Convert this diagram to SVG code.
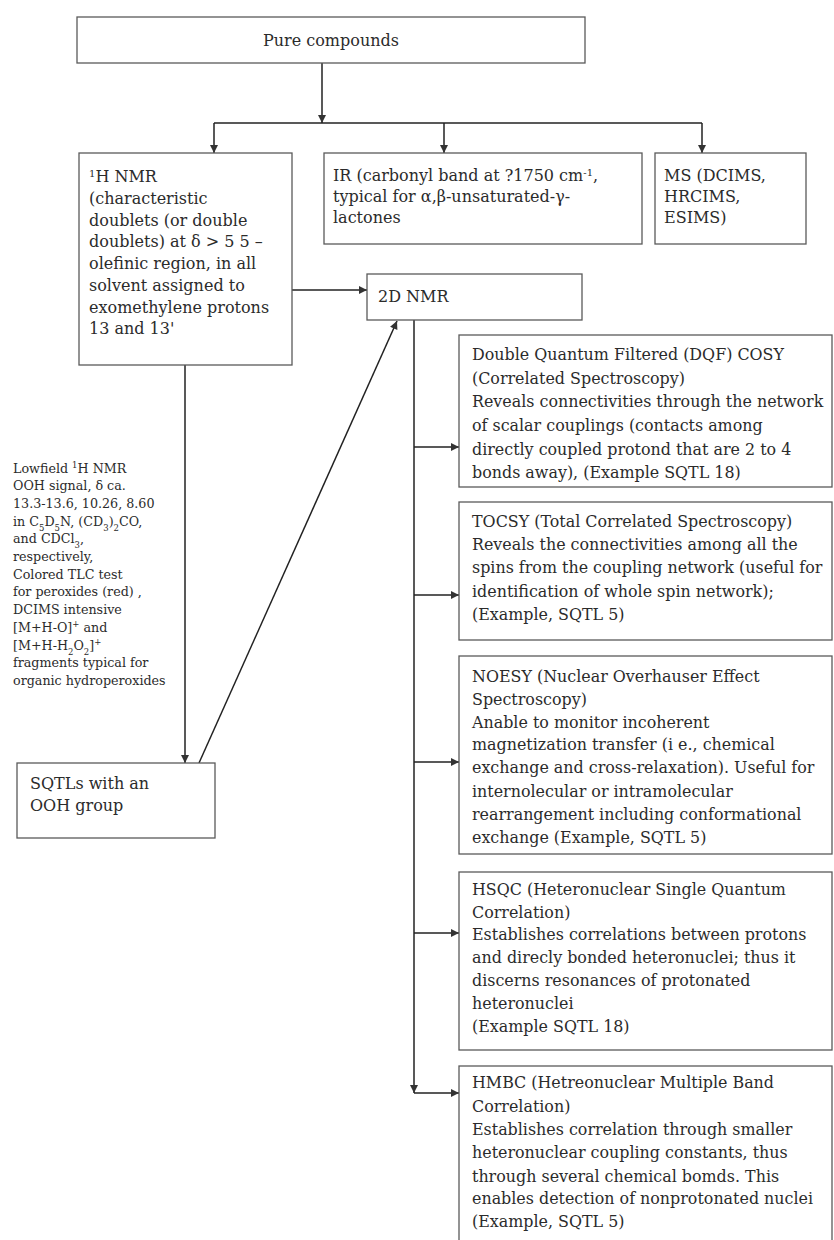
<svg xmlns="http://www.w3.org/2000/svg" width="834" height="1240" viewBox="0 0 834 1240">
<defs>
<style>
.box{fill:#fff;stroke:#5a5a5a;stroke-width:1.3}
.t{font-family:"DejaVu Serif","Liberation Serif",serif;font-size:16px;fill:#2b2b2b}
.r{font-family:"DejaVu Serif","Liberation Serif",serif;font-size:15.9px;fill:#2b2b2b}
.s{font-family:"DejaVu Serif","Liberation Serif",serif;font-size:12.7px;fill:#2b2b2b}
.c{fill:none;stroke:#222;stroke-width:1.5}
</style>
<marker id="ah" viewBox="0 0 10 10" refX="10" refY="5" markerWidth="9" markerHeight="8" orient="auto" markerUnits="userSpaceOnUse">
<path d="M0,0 L10,5 L0,10 z" fill="#333"/>
</marker>
</defs>
<rect width="834" height="1240" fill="#fff"/>

<g id="connectors">
<line class="c" x1="322" y1="63" x2="322" y2="123" marker-end="url(#ah)"/>
<line class="c" x1="214" y1="123" x2="702" y2="123"/>
<line class="c" x1="214" y1="123" x2="214" y2="153" marker-end="url(#ah)"/>
<line class="c" x1="444" y1="123" x2="444" y2="153" marker-end="url(#ah)"/>
<line class="c" x1="702" y1="123" x2="702" y2="153" marker-end="url(#ah)"/>
<line class="c" x1="292" y1="290" x2="367" y2="290" marker-end="url(#ah)"/>
<line class="c" x1="185" y1="365" x2="185" y2="763" marker-end="url(#ah)"/>
<line class="c" x1="199" y1="763" x2="397" y2="321" marker-end="url(#ah)"/>
<line class="c" x1="414" y1="320" x2="414" y2="1093" marker-end="url(#ah)"/>
<line class="c" x1="414" y1="447" x2="459" y2="447" marker-end="url(#ah)"/>
<line class="c" x1="414" y1="595" x2="459" y2="595" marker-end="url(#ah)"/>
<line class="c" x1="414" y1="762" x2="459" y2="762" marker-end="url(#ah)"/>
<line class="c" x1="414" y1="933" x2="459" y2="933" marker-end="url(#ah)"/>
<line class="c" x1="414" y1="1093" x2="459" y2="1093" marker-end="url(#ah)"/>
</g>

<g id="pure">
<rect class="box" x="77" y="17" width="508" height="46"/>
<text class="t" x="331" y="46" text-anchor="middle">Pure compounds</text>
</g>

<g id="hnmr">
<rect class="box" x="79" y="153" width="213" height="212"/>
<text class="t" x="89" y="182"><tspan font-size="10" baseline-shift="super">1</tspan>H NMR</text>
<text class="t" x="89" y="204">(characteristic</text>
<text class="t" x="89" y="226">doublets (or double</text>
<text class="t" x="89" y="247">doublets) at δ &gt; 5 5 –</text>
<text class="t" x="89" y="269">olefinic region, in all</text>
<text class="t" x="89" y="291">solvent assigned to</text>
<text class="t" x="89" y="313">exomethylene protons</text>
<text class="t" x="89" y="334">13 and 13'</text>
</g>

<g id="ir">
<rect class="box" x="324" y="153" width="318" height="91"/>
<text class="t" x="333" y="181">IR (carbonyl band at ?1750 cm<tspan font-size="10" baseline-shift="super">-1</tspan>,</text>
<text class="t" x="333" y="202">typical for α,β-unsaturated-γ-</text>
<text class="t" x="333" y="223">lactones</text>
</g>

<g id="ms">
<rect class="box" x="655" y="153" width="151" height="91"/>
<text class="t" x="664" y="181">MS (DCIMS,</text>
<text class="t" x="664" y="202">HRCIMS,</text>
<text class="t" x="664" y="223">ESIMS)</text>
</g>

<g id="nmr2d">
<rect class="box" x="367" y="274" width="215" height="46"/>
<text class="t" x="378" y="302">2D NMR</text>
</g>

<g id="note">
<text class="s" x="13" y="473">Lowfield <tspan font-size="8.5" baseline-shift="super">1</tspan>H NMR</text>
<text class="s" x="13" y="490">OOH signal, δ ca.</text>
<text class="s" x="13" y="508">13.3-13.6, 10.26, 8.60</text>
<text class="s" x="13" y="526"> in C<tspan font-size="8.5" baseline-shift="sub">5</tspan>D<tspan font-size="8.5" baseline-shift="sub">5</tspan>N, (CD<tspan font-size="8.5" baseline-shift="sub">3</tspan>)<tspan font-size="8.5" baseline-shift="sub">2</tspan>CO,</text>
<text class="s" x="13" y="543">and CDCl<tspan font-size="8.5" baseline-shift="sub">3</tspan>,</text>
<text class="s" x="13" y="561">respectively,</text>
<text class="s" x="13" y="579">Colored TLC test</text>
<text class="s" x="13" y="596">for peroxides (red) ,</text>
<text class="s" x="13" y="614">DCIMS intensive</text>
<text class="s" x="13" y="632">[M+H-O]<tspan font-size="8.5" baseline-shift="super">+</tspan> and</text>
<text class="s" x="13" y="650">[M+H-H<tspan font-size="8.5" baseline-shift="sub">2</tspan>O<tspan font-size="8.5" baseline-shift="sub">2</tspan>]<tspan font-size="8.5" baseline-shift="super">+</tspan></text>
<text class="s" x="13" y="667">fragments typical for</text>
<text class="s" x="13" y="685">organic hydroperoxides</text>
</g>

<g id="sqtl">
<rect class="box" x="17" y="763" width="198" height="75"/>
<text class="t" x="30" y="789">SQTLs with an</text>
<text class="t" x="30" y="811">OOH group</text>
</g>

<g id="dqf">
<rect class="box" x="459" y="335" width="373" height="152"/>
<text class="r" x="472" y="360">Double Quantum Filtered (DQF) COSY</text>
<text class="r" x="472" y="384">(Correlated Spectroscopy)</text>
<text class="r" x="472" y="407">Reveals connectivities through the network</text>
<text class="r" x="472" y="431">of scalar couplings (contacts among</text>
<text class="r" x="472" y="455">directly coupled protond that are 2 to 4</text>
<text class="r" x="472" y="478">bonds away), (Example SQTL 18)</text>
</g>

<g id="tocsy">
<rect class="box" x="459" y="502" width="373" height="138"/>
<text class="r" x="472" y="527">TOCSY (Total Correlated Spectroscopy)</text>
<text class="r" x="472" y="550">Reveals the connectivities among all the</text>
<text class="r" x="472" y="573">spins from the coupling network (useful for</text>
<text class="r" x="472" y="597">identification of whole spin network);</text>
<text class="r" x="472" y="620">(Example, SQTL 5)</text>
</g>

<g id="noesy">
<rect class="box" x="459" y="656" width="373" height="198"/>
<text class="r" x="472" y="682">NOESY (Nuclear Overhauser Effect</text>
<text class="r" x="472" y="705">Spectroscopy)</text>
<text class="r" x="472" y="728">Anable to monitor incoherent</text>
<text class="r" x="472" y="750">magnetization transfer (i e., chemical</text>
<text class="r" x="472" y="773">exchange and cross-relaxation). Useful for</text>
<text class="r" x="472" y="797">internolecular or intramolecular</text>
<text class="r" x="472" y="820">rearrangement including conformational</text>
<text class="r" x="472" y="843">exchange (Example, SQTL 5)</text>
</g>

<g id="hsqc">
<rect class="box" x="459" y="872" width="373" height="178"/>
<text class="r" x="472" y="895">HSQC (Heteronuclear Single Quantum</text>
<text class="r" x="472" y="918">Correlation)</text>
<text class="r" x="472" y="940">Establishes correlations between protons</text>
<text class="r" x="472" y="963">and direcly bonded heteronuclei; thus it</text>
<text class="r" x="472" y="986">discerns resonances of protonated</text>
<text class="r" x="472" y="1009">heteronuclei</text>
<text class="r" x="472" y="1032">(Example SQTL 18)</text>
</g>

<g id="hmbc">
<rect class="box" x="459" y="1066" width="373" height="190"/>
<text class="r" x="472" y="1088">HMBC (Hetreonuclear Multiple Band</text>
<text class="r" x="472" y="1112">Correlation)</text>
<text class="r" x="472" y="1135">Establishes correlation through smaller</text>
<text class="r" x="472" y="1158">heteronuclear coupling constants, thus</text>
<text class="r" x="472" y="1182">through several chemical bomds. This</text>
<text class="r" x="472" y="1204">enables detection of nonprotonated nuclei</text>
<text class="r" x="472" y="1227">(Example, SQTL 5)</text>
</g>
</svg>
